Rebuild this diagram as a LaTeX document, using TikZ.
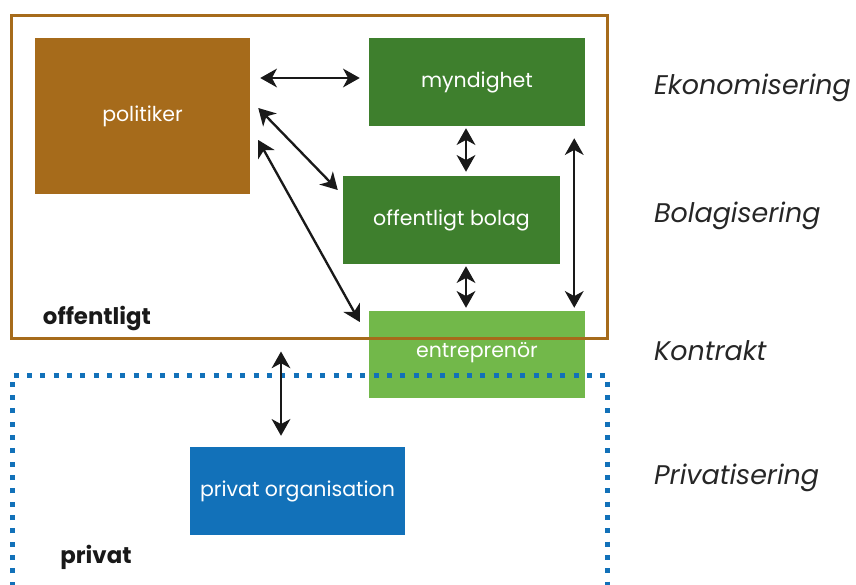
\documentclass[tikz,border=0pt]{standalone}
\usepackage{fontspec}
\setmainfont{Poppins}
\usetikzlibrary{calc,arrows.meta}

\definecolor{brun}{HTML}{A66B1B}
\definecolor{morkgron}{HTML}{3E7F2D}
\definecolor{ljusgron}{HTML}{72B84A}
\definecolor{bla}{HTML}{1271B9}

\tikzset{
  ruta/.style={inner sep=0pt, text=white, font=\fontsize{17.5}{20}\selectfont},
  pil/.style={{Stealth[length=0.5cm,width=0.56cm,inset=0.15cm]}-{Stealth[length=0.5cm,width=0.56cm,inset=0.15cm]},
    line width=0.07cm, draw=black!90},
  etikett/.style={anchor=west, font=\fontsize{23}{26}\selectfont\itshape, text=black!85},
  rubrik/.style={font=\fontsize{19.5}{22}\selectfont\bfseries, text=black!90},
}

\begin{document}
\begin{tikzpicture}[x=0.03cm,y=-0.03cm]

    \useasboundingbox (0,0) rectangle (856,585);

    % rutor
    \node[ruta, fill=brun, minimum width=6.45cm, minimum height=4.68cm]
      (politiker) at (142.5,116) {politiker};
    \node[ruta, fill=morkgron, minimum width=6.48cm, minimum height=2.64cm]
      (myndighet) at (477,82) {myndighet};
    \node[ruta, fill=morkgron, minimum width=6.51cm, minimum height=2.64cm]
      (bolag) at (451.5,220) {offentligt bolag};
    \node[ruta, fill=ljusgron, minimum width=6.48cm, minimum height=2.61cm,
      text depth=0pt] (entreprenor) at (477,354.5) {\raisebox{0.25cm}{entreprenör}};
    \node[ruta, fill=bla, minimum width=6.45cm, minimum height=2.64cm]
      (privorg) at (297.5,491) {privat organisation};

    % offentligt och privat
    \node[draw=brun, line width=0.09cm, inner sep=0pt,
      minimum width=17.85cm, minimum height=9.66cm] (offentlig) at (309.5,177) {};
    \node[rubrik] (offtext) at (97,318) {offentligt};

    \draw[bla, line width=0.15cm, dash pattern=on 0.15cm off 0.25cm]
      (12,600) -- (12,375) -- (607,375) -- (607,600);
    \node[rubrik] (privtext) at (96,557) {privat};

    % pilar
    \draw[pil] ($(politiker.east |- myndighet.west)+(10,-4)$) -- ($(myndighet.west)+(-9,-4)$);
    \draw[pil] ($(politiker.east)+(8,-8)$) -- ($(bolag.west)+(-5,-30)$);
    \draw[pil] ($(politiker.east)+(8,24)$) -- ($(entreprenor.west)+(-9,-32.5)$);
    \draw[pil] ($(myndighet.south)+(-11,2)$) -- ($(bolag.north)+(14.5,-4)$);
    \draw[pil] ($(bolag.south)+(14.5,2)$) -- ($(entreprenor.north)+(-11,-3)$);
    \draw[pil] ($(myndighet.south east)+(-11,12)$) -- ($(entreprenor.north east)+(-11,-3)$);
    \draw[pil] ($(offentlig.south)+(-28.5,12)$) -- ($(privorg.north)+(-16.5,-11)$);

    % processer
    \node[etikett] (ekonomisering) at (650,88) {Ekonomisering};
    \node[etikett] (bolagisering) at (650,216) {Bolagisering};
    \node[etikett] (kontrakt) at (650,351) {Kontrakt};
    \node[etikett] (privatisering) at (650,478) {Privatisering};

\end{tikzpicture}
\end{document}
